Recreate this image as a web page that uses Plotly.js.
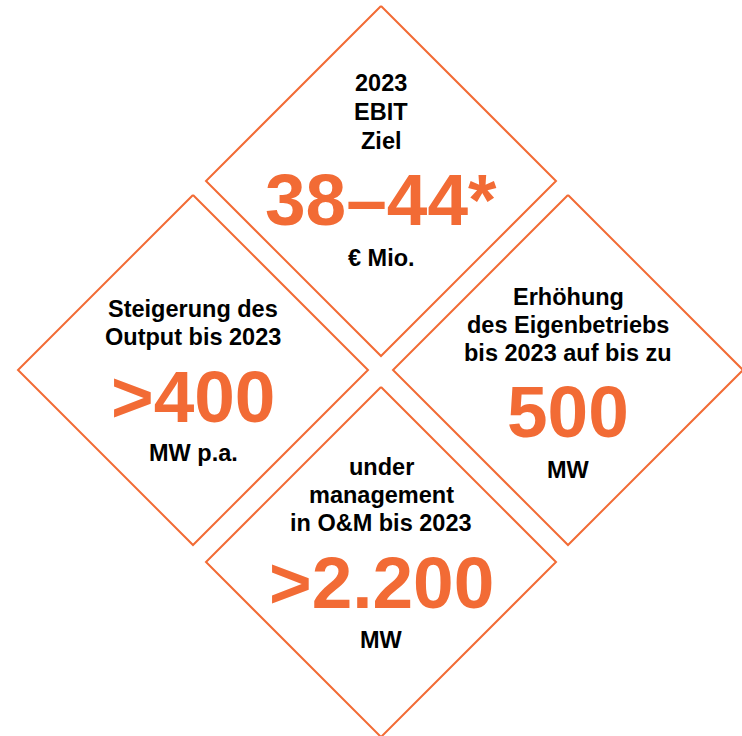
<!DOCTYPE html>
<html>
<head>
<meta charset="utf-8">
<script src="https://cdn.plot.ly/plotly-3.0.1.min.js"></script>
<style>html,body{margin:0;padding:0;background:#fff;}#chart{width:742px;height:736px;}</style>
</head>
<body>
<div id="chart"></div>
<script>
// Content
const headings = [
  ["2023", "EBIT", "Ziel"],
  ["Steigerung des", "Output bis 2023"],
  ["Erhöhung", "des Eigenbetriebs", "bis 2023 auf bis zu"],
  ["under", "management", "in O&M bis 2023"]
];
const values = ["38–44*", ">400", "500", ">2.200"];
const units = ["€ Mio.", "MW p.a.", "MW", "MW"];

// Layout (diamond centres in pixel-like coordinates)
const centerX = [381, 193, 568, 381];
const centerY = [181, 370, 370, 562];
const half = 175;
const headingY = [[83, 112, 141], [309, 337], [297, 325, 353], [467, 495, 523]];
const valueY = [199, 396, 411, 582];
const unitY = [258, 453, 470, 640];

const ORANGE = "#F26B35";
const FONT = "Liberation Sans, Arial, sans-serif";

const traces = centerX.map((cx, i) => {
  const cy = centerY[i];
  return {
    type: "scatter", mode: "lines", hoverinfo: "skip", showlegend: false,
    x: [cx, cx + half, cx, cx - half, cx],
    y: [cy - half, cy, cy + half, cy, cy - half],
    line: {color: ORANGE, width: 2}
  };
});

const annotations = [];
headings.forEach((lines, i) => {
  lines.forEach((t, j) => {
    annotations.push({x: centerX[i], y: headingY[i][j], xref: "x", yref: "y", text: "<b>" + t + "</b>",
      showarrow: false, xanchor: "center", yanchor: "middle", font: {family: FONT, size: 23.5, color: "#000"}});
  });
  annotations.push({x: centerX[i], y: valueY[i], xref: "x", yref: "y", text: "<b>" + values[i] + "</b>",
    showarrow: false, xanchor: "center", yanchor: "middle", font: {family: FONT, size: 73, color: ORANGE}});
  annotations.push({x: centerX[i], y: unitY[i], xref: "x", yref: "y", text: "<b>" + units[i] + "</b>",
    showarrow: false, xanchor: "center", yanchor: "middle", font: {family: FONT, size: 23.5, color: "#000"}});
});

const layout = {
  width: 742, height: 736,
  margin: {l: 0, r: 0, t: 0, b: 0},
  paper_bgcolor: "#fff", plot_bgcolor: "#fff",
  xaxis: {range: [0, 742], visible: false, fixedrange: true},
  yaxis: {range: [736, 0], visible: false, fixedrange: true},
  annotations: annotations,
  showlegend: false
};

Plotly.newPlot("chart", traces, layout, {staticPlot: true, displayModeBar: false});
</script>
</body>
</html>
